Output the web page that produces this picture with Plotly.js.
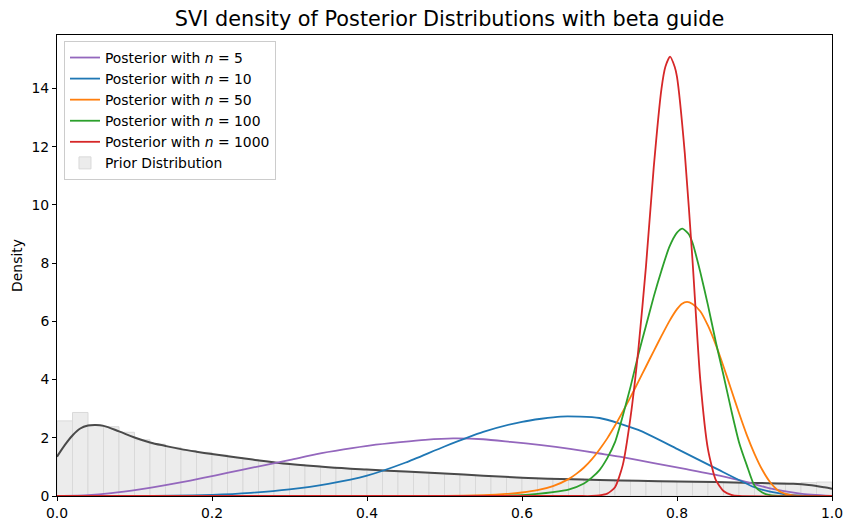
<!DOCTYPE html>
<html>
<head>
<meta charset="utf-8">
<script src="https://cdn.plot.ly/plotly-3.0.1.min.js"></script>
<style>html,body{margin:0;padding:0;background:#fff;}</style>
</head>
<body>
<div id="chart" style="width:853px;height:530px;"></div>
<script>
// Prior histogram (density), bin width 0.02
const priorBinStart = [0.00,0.02,0.04,0.06,0.08,0.10,0.12,0.14,0.16,0.18,0.20,0.22,0.24,0.26,0.28,0.30,0.32,0.34,0.36,0.38,0.40,0.42,0.44,0.46,0.48,0.50,0.52,0.54,0.56,0.58,0.60,0.62,0.64,0.66,0.68,0.70,0.72,0.74,0.76,0.78,0.80,0.82,0.84,0.86,0.88,0.90,0.92,0.94,0.96,0.98];
const priorDensity = [2.58,2.87,2.44,2.38,2.19,1.93,1.78,1.67,1.56,1.50,1.41,1.32,1.25,1.19,1.13,1.08,1.03,0.99,0.95,0.92,0.89,0.85,0.82,0.80,0.77,0.75,0.72,0.70,0.67,0.64,0.62,0.61,0.59,0.58,0.56,0.55,0.54,0.53,0.52,0.51,0.50,0.49,0.48,0.47,0.46,0.45,0.45,0.44,0.46,0.48];

// Prior KDE
const kdeX = [0,0.01,0.02,0.03,0.04,0.05,0.06,0.08,0.10,0.12,0.14,0.16,0.18,0.20,0.25,0.30,0.35,0.40,0.45,0.50,0.55,0.60,0.65,0.70,0.75,0.80,0.85,0.90,0.95,0.97,0.99,1.0];
const kdeY = [1.35,1.75,2.08,2.32,2.42,2.44,2.41,2.22,2.01,1.84,1.72,1.61,1.52,1.44,1.26,1.10,0.99,0.91,0.84,0.77,0.70,0.63,0.58,0.55,0.52,0.50,0.48,0.45,0.42,0.38,0.30,0.25];

// Posterior n=5
const n5X = [0,0.04,0.07,0.107,0.14,0.172,0.205,0.237,0.27,0.301,0.335,0.37,0.405,0.443,0.475,0.511,0.55,0.585,0.625,0.662,0.70,0.726,0.77,0.812,0.855,0.894,0.92,0.959,1.0];
const n5Y = [0,0.03,0.10,0.23,0.37,0.53,0.71,0.89,1.07,1.24,1.44,1.60,1.74,1.85,1.93,1.98,1.95,1.86,1.75,1.62,1.46,1.35,1.13,0.92,0.70,0.45,0.26,0.08,0];

// Posterior n=10
const n10X = [0,0.10,0.15,0.20,0.25,0.30,0.35,0.40,0.45,0.50,0.55,0.60,0.65,0.70,0.75,0.80,0.85,0.90,0.92,0.95,0.98,1.0];
const n10Y = [0,0,0.01,0.04,0.11,0.23,0.42,0.70,1.15,1.70,2.20,2.55,2.73,2.68,2.27,1.62,0.95,0.30,0.15,0.03,0,0];

// Posterior n=50
const n50X = [0,0.45,0.50,0.55,0.58,0.60,0.62,0.64,0.66,0.67,0.68,0.69,0.70,0.71,0.72,0.73,0.74,0.75,0.76,0.77,0.78,0.79,0.80,0.806,0.813,0.82,0.83,0.84,0.85,0.86,0.87,0.88,0.89,0.90,0.91,0.92,0.93,0.94,0.95,0.97,1.0];
const n50Y = [0,0,0.005,0.03,0.07,0.12,0.20,0.34,0.58,0.76,0.98,1.26,1.60,1.98,2.42,2.90,3.40,3.92,4.45,4.98,5.50,6.00,6.42,6.60,6.67,6.60,6.35,5.85,5.20,4.45,3.65,2.85,2.10,1.45,0.90,0.48,0.20,0.07,0.02,0,0];

// Posterior n=100
const n100X = [0,0.55,0.60,0.62,0.64,0.66,0.68,0.69,0.70,0.71,0.72,0.73,0.74,0.75,0.76,0.77,0.78,0.79,0.80,0.807,0.815,0.82,0.83,0.84,0.85,0.86,0.87,0.88,0.89,0.90,0.91,0.92,0.94,1.0];
const n100Y = [0,0,0.03,0.07,0.13,0.22,0.43,0.63,0.89,1.30,1.85,2.75,3.75,4.85,5.85,6.85,7.75,8.55,9.05,9.19,9.00,8.70,7.70,6.55,5.30,4.15,2.95,1.85,1.06,0.35,0.12,0.03,0,0];

// Posterior n=1000
const n1000X = [0,0.67,0.69,0.70,0.71,0.72,0.73,0.74,0.75,0.76,0.77,0.78,0.785,0.791,0.797,0.80,0.81,0.82,0.83,0.84,0.85,0.86,0.87,0.88,1.0];
const n1000Y = [0,0,0,0.02,0.08,0.30,1.06,2.70,5.00,7.90,11.30,14.00,14.75,15.10,14.75,14.40,11.80,8.10,4.00,1.60,0.55,0.17,0.04,0,0];

const seriesNames = ['Posterior with <i>n</i> = 5','Posterior with <i>n</i> = 10','Posterior with <i>n</i> = 50','Posterior with <i>n</i> = 100','Posterior with <i>n</i> = 1000'];
const seriesColors = ['#9467bd','#1f77b4','#ff7f0e','#2ca02c','#d62728'];
const seriesX = [n5X,n10X,n50X,n100X,n1000X];
const seriesY = [n5Y,n10Y,n50Y,n100Y,n1000Y];

const traces = [];
traces.push({
  type:'bar',
  x: priorBinStart.map(v => v + 0.01),
  y: priorDensity,
  width: 0.02,
  name:'Prior Distribution',
  marker:{color:'#ececec', line:{color:'#d9d9d9', width:1}},
  legendrank: 1006,
  hoverinfo:'skip'
});
traces.push({
  type:'scatter', mode:'lines', x: kdeX, y: kdeY,
  line:{color:'#4a4a4a', width:2, shape:'spline', smoothing:1},
  showlegend:false
});
for (let i=0;i<5;i++){
  traces.push({
    type:'scatter', mode:'lines', x: seriesX[i], y: seriesY[i],
    name: seriesNames[i],
    line:{color: seriesColors[i], width:1.8, shape:'spline', smoothing:0.6},
    legendrank: 1000+i
  });
}

const layout = {
  width:853, height:530,
  margin:{l:57, r:21, t:35, b:34, pad:0},
  paper_bgcolor:'#fff', plot_bgcolor:'#fff',
  font:{family:'DejaVu Sans, sans-serif', size:13.9, color:'#000'},
  title:{text:'SVI density of Posterior Distributions with beta guide', x:0.527, xanchor:'center', yref:'container', y:0.964, yanchor:'middle', font:{size:20.8, color:'#000'}},
  bargap:0,
  showlegend:true,
  legend:{x:0.009, y:0.987, xanchor:'left', yanchor:'top', bgcolor:'rgba(255,255,255,0.8)', bordercolor:'#cccccc', borderwidth:1, font:{size:13.9}, traceorder:'normal', itemwidth:30},
  xaxis:{range:[0,1], tickvals:[0,0.2,0.4,0.6,0.8,1.0], ticktext:['0.0','0.2','0.4','0.6','0.8','1.0'], showgrid:false, zeroline:false, showline:true, mirror:true, linecolor:'#000', linewidth:1, ticks:'outside', ticklen:4, tickcolor:'#000', tickfont:{size:13.9}},
  yaxis:{range:[0,15.84], tickvals:[0,2,4,6,8,10,12,14], showgrid:false, zeroline:false, showline:true, mirror:true, linecolor:'#000', linewidth:1, ticks:'outside', ticklen:4, tickcolor:'#000', tickfont:{size:13.9}, title:{text:'Density', font:{size:13.9}, standoff:5}}
};

Plotly.newPlot('chart', traces, layout, {displayModeBar:false, staticPlot:true});
</script>
</body>
</html>
